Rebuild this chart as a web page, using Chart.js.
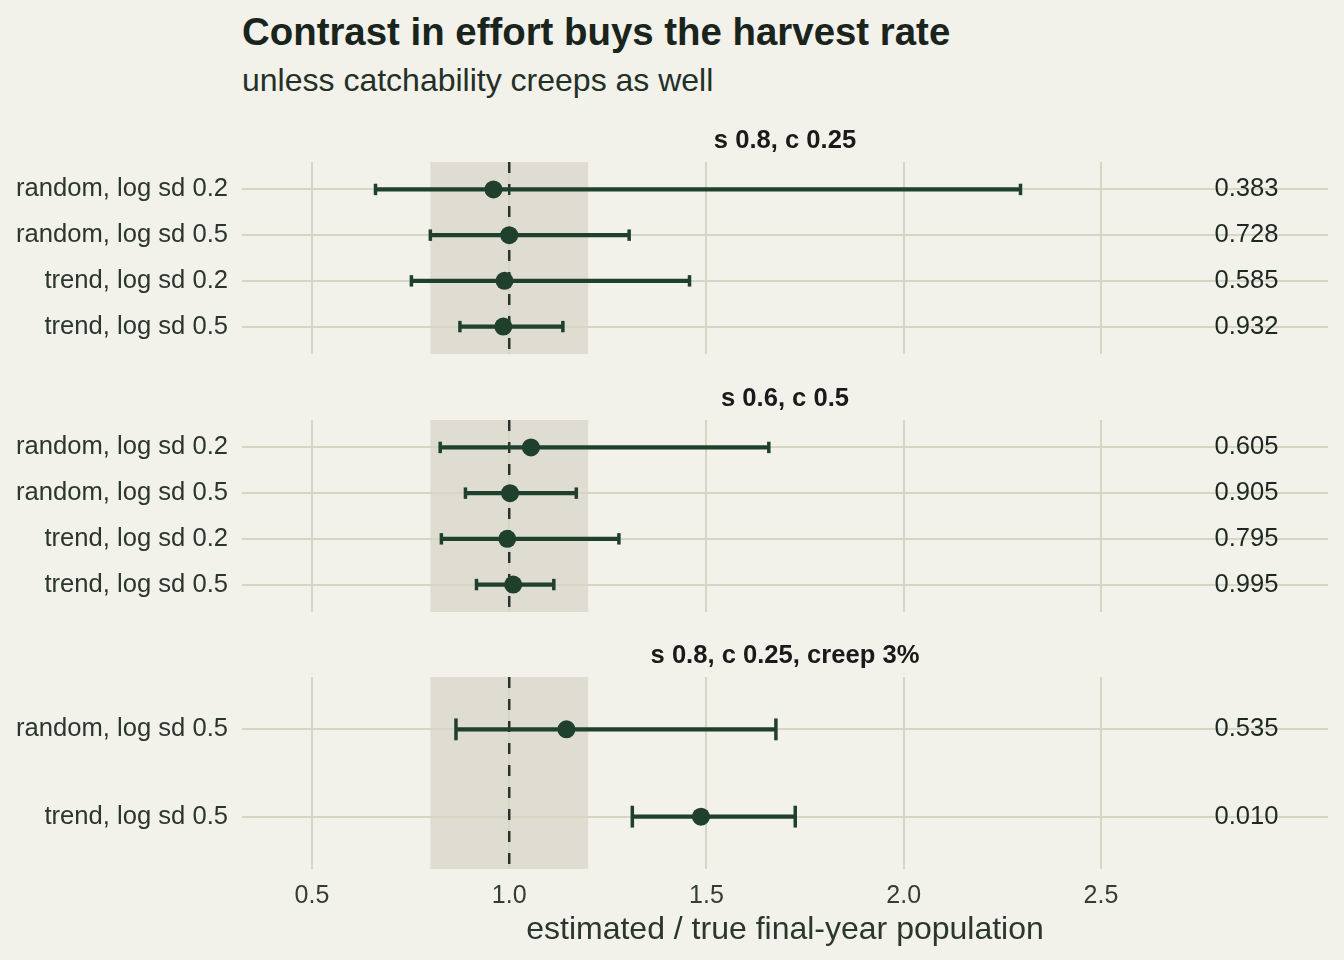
<!DOCTYPE html>
<html>
<head>
<meta charset="utf-8">
<title>Contrast in effort buys the harvest rate</title>
<script src="https://cdn.jsdelivr.net/npm/chart.js@4.4.1/dist/chart.umd.min.js"></script>
<style>
  body { margin: 0; background: #f2f1ea; width: 1344px; height: 960px; overflow: hidden; position: relative;
         font-family: "Liberation Sans", Arial, Helvetica, sans-serif; }
  #title { position: absolute; left: 242px; top: 13px; font-size: 38.4px; line-height: 38px; font-weight: bold; color: #18241c; white-space: nowrap; }
  #subtitle { position: absolute; left: 242px; top: 64px; font-size: 32px; line-height: 32px; color: #223027; white-space: nowrap; }
  canvas { position: absolute; left: 0; }
</style>
</head>
<body>
<div id="title">Contrast in effort buys the harvest rate</div>
<div id="subtitle">unless catchability creeps as well</div>
<canvas id="panel1" width="1344" height="234" style="top:120px"></canvas>
<canvas id="panel2" width="1344" height="234" style="top:378px"></canvas>
<canvas id="panel3" width="1344" height="325" style="top:635px"></canvas>
<script>
// facet titles
const panelTitles = ['s 0.8, c 0.25', 's 0.6, c 0.5', 's 0.8, c 0.25, creep 3%'];

// s 0.8, c 0.25
const panel1Labels = ['random, log sd 0.2', 'random, log sd 0.5', 'trend, log sd 0.2', 'trend, log sd 0.5'];
const panel1Est = [0.960, 1.000, 0.988, 0.985];
const panel1Lo = [0.661, 0.800, 0.752, 0.875];
const panel1Hi = [2.296, 1.304, 1.457, 1.136];
const panel1Rate = ['0.383', '0.728', '0.585', '0.932'];

// s 0.6, c 0.5
const panel2Labels = ['random, log sd 0.2', 'random, log sd 0.5', 'trend, log sd 0.2', 'trend, log sd 0.5'];
const panel2Est = [1.055, 1.002, 0.995, 1.010];
const panel2Lo = [0.825, 0.889, 0.828, 0.917];
const panel2Hi = [1.658, 1.170, 1.278, 1.113];
const panel2Rate = ['0.605', '0.905', '0.795', '0.995'];

// s 0.8, c 0.25, creep 3%
const panel3Labels = ['random, log sd 0.5', 'trend, log sd 0.5'];
const panel3Est = [1.145, 1.486];
const panel3Lo = [0.865, 1.312];
const panel3Hi = [1.676, 1.725];
const panel3Rate = ['0.535', '0.010'];

const xTicks = [0.5, 1.0, 1.5, 2.0, 2.5];

const GREEN = '#1f402d';
const GRID = '#d7d6c5';
const BAND = '#dfddd1';
const TEXT = '#2a362e';

Chart.defaults.font.family = '"Liberation Sans", Arial, Helvetica, sans-serif';
Chart.defaults.color = TEXT;

// shaded 0.8-1.2 band under the grid, dashed line at 1
const bandPlugin = {
  id: 'band',
  beforeDraw(chart) {
    const {ctx, chartArea, scales: {x}} = chart;
    const x0 = x.getPixelForValue(0.8), x1 = x.getPixelForValue(1.2);
    ctx.save();
    ctx.fillStyle = BAND;
    ctx.fillRect(x0, chartArea.top, x1 - x0, chartArea.bottom - chartArea.top);
    ctx.restore();
  },
  beforeDatasetsDraw(chart) {
    const {ctx, chartArea, scales: {x}} = chart;
    const px = x.getPixelForValue(1.0);
    ctx.save();
    ctx.strokeStyle = '#2b322d';
    ctx.lineWidth = 2.5;
    ctx.setLineDash([11, 11]);
    ctx.beginPath();
    ctx.moveTo(px, chartArea.top);
    ctx.lineTo(px, chartArea.bottom);
    ctx.stroke();
    ctx.restore();
  }
};

// facet strip text, centred over the panel
const stripTitle = {
  id: 'stripTitle',
  afterDraw(chart, args, opts) {
    const {ctx, chartArea} = chart;
    ctx.save();
    ctx.font = 'bold 25.6px "Liberation Sans", Arial, sans-serif';
    ctx.fillStyle = '#1a1a1a';
    ctx.textAlign = 'center';
    ctx.textBaseline = 'middle';
    ctx.fillText(opts.text, (chartArea.left + chartArea.right) / 2, chartArea.top - 21.5);
    ctx.restore();
  }
};

// harvest-rate numbers on the right
const rateLabels = {
  id: 'rateLabels',
  afterDatasetsDraw(chart, args, opts) {
    const {ctx, scales: {x, y}} = chart;
    ctx.save();
    ctx.font = '25.6px "Liberation Sans", Arial, sans-serif';
    ctx.fillStyle = '#1d2822';
    ctx.textAlign = 'right';
    ctx.textBaseline = 'middle';
    opts.rates.forEach((r, i) => {
      ctx.fillText(r, x.getPixelForValue(2.95), y.getPixelForValue(i));
    });
    ctx.restore();
  }
};

function capRadius(c) {
  const y = c.chart.scales.y;
  return Math.abs(y.getPixelForValue(1) - y.getPixelForValue(0)) * 0.125;
}

function makePanel(id, title, labels, est, lo, hi, rates, showAxis) {
  const datasets = [{
    data: est.map((v, i) => ({x: v, y: i})),
    pointRadius: 9,
    pointBackgroundColor: GREEN,
    pointBorderWidth: 0
  }];
  labels.forEach((_, i) => {
    datasets.push({
      data: [{x: lo[i], y: i}, {x: hi[i], y: i}],
      showLine: true,
      borderColor: GREEN,
      borderWidth: 4.3,
      pointStyle: 'line',
      pointRotation: 90,
      pointBorderColor: GREEN,
      pointBorderWidth: 3.5,
      pointRadius: capRadius
    });
  });

  new Chart(document.getElementById(id), {
    type: 'scatter',
    data: {datasets: datasets},
    options: {
      responsive: false,
      animation: false,
      events: [],
      layout: {autoPadding: false, padding: {left: 0, right: 16, top: 42, bottom: 0}},
      plugins: {
        legend: {display: false},
        tooltip: {enabled: false},
        stripTitle: {text: title},
        rateLabels: {rates: rates}
      },
      scales: {
        x: {
          type: 'linear',
          min: 0.3226,
          max: 3.0755,
          afterBuildTicks: s => { s.ticks = xTicks.map(v => ({value: v})); },
          afterFit: s => {
            s.height = showAxis ? 91 : 0;
            s.paddingLeft = s.paddingRight = 0;
          },
          grid: {color: GRID, lineWidth: 2, drawTicks: false},
          border: {display: false},
          ticks: {
            display: showAxis,
            padding: 12,
            color: '#333d36',
            font: {size: 25},
            callback: v => v.toFixed(1)
          },
          title: {
            display: showAxis,
            text: 'estimated / true final-year population',
            color: '#2a362e',
            font: {size: 32},
            padding: {top: 11, bottom: 11}
          }
        },
        y: {
          type: 'linear',
          reverse: true,
          min: -0.6,
          max: labels.length - 0.4,
          afterBuildTicks: s => { s.ticks = labels.map((_, i) => ({value: i})); },
          afterFit: s => {
            s.width = 242;
            s.paddingTop = s.paddingBottom = 0;
          },
          grid: {color: GRID, lineWidth: 2, drawTicks: false},
          border: {display: false},
          ticks: {
            padding: 14,
            color: TEXT,
            font: {size: 25.6},
            callback: v => labels[v]
          }
        }
      }
    },
    plugins: [bandPlugin, stripTitle, rateLabels]
  });
}

makePanel('panel1', panelTitles[0], panel1Labels, panel1Est, panel1Lo, panel1Hi, panel1Rate, false);
makePanel('panel2', panelTitles[1], panel2Labels, panel2Est, panel2Lo, panel2Hi, panel2Rate, false);
makePanel('panel3', panelTitles[2], panel3Labels, panel3Est, panel3Lo, panel3Hi, panel3Rate, true);
</script>
</body>
</html>
